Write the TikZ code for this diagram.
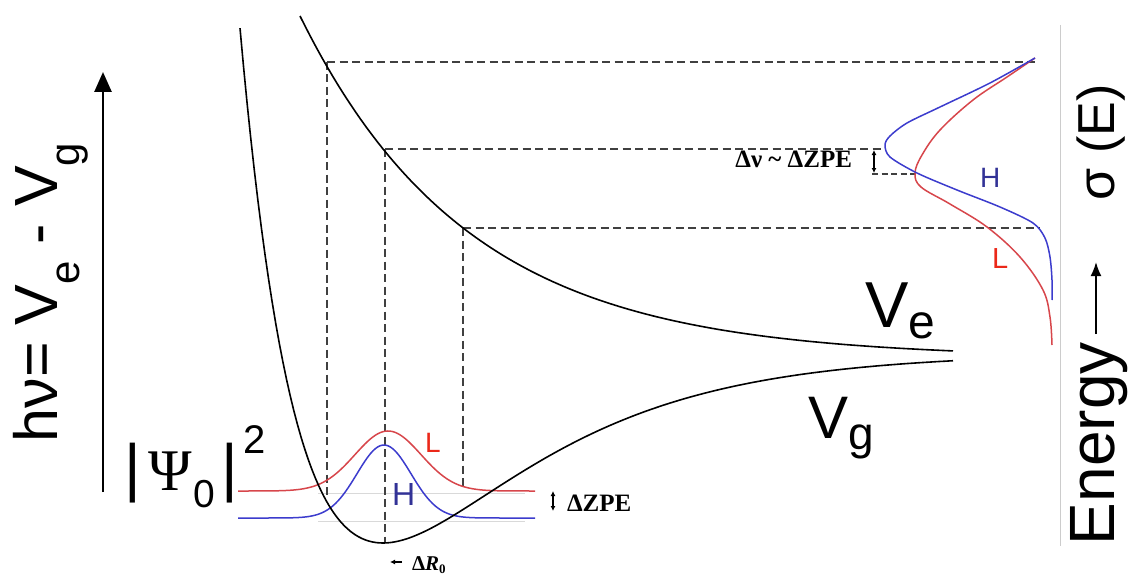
\documentclass[tikz,border=0pt]{standalone}
\usepackage{fontspec}
\setmainfont{Liberation Sans}
\newfontfamily\tms{Liberation Serif}
\usetikzlibrary{arrows.meta}
\newcommand{\lsub}[3]{\raisebox{-#1}{\fontsize{#2}{#2}\selectfont #3}}
\newcommand{\fs}[1]{\fontsize{#1}{#1}\selectfont}
\definecolor{wred}{RGB}{215,70,75}
\definecolor{wblue}{RGB}{60,60,205}
\definecolor{lred}{RGB}{235,40,25}
\definecolor{lblue}{RGB}{50,50,150}
\begin{document}
\begin{tikzpicture}[x=1pt,y=-1pt,
  curve/.style={line width=1.6pt,black},
  guide/.style={line width=1.5pt,black!75,dash pattern=on 8pt off 4.5pt},
  faint/.style={line width=0.9pt,black!15},
  lbl/.style={inner sep=0pt,outer sep=0pt}]
\useasboundingbox (0,0) rectangle (1128,578);

% points on V_e
\coordinate (p1) at (327,62);
\coordinate (p2) at (385,149);
\coordinate (p3) at (463,228);
\coordinate (b1) at (327,497);
\coordinate (b2) at (385,543);
\coordinate (b3) at (463,490);
\coordinate (s1) at (1035,62);
\coordinate (s2) at (885,149);
\coordinate (s3) at (1040,228);
\coordinate (q1) at (872,174);
\coordinate (q2) at (916,174);

% faint levels
\draw[faint] (318,493) -- (525,493);
\draw[faint] (318,521) -- (525,521);

% dashed guides
\draw[guide] (p1) -- (b1);
\draw[guide] (p2) -- (b2);
\draw[guide] (p3) -- (b3);
\draw[guide] (p1) -- (s1);
\draw[guide] (p2) -- (s2);
\draw[guide] (p3) -- (s3);
\draw[guide,line width=1.2pt,dash pattern=on 6pt off 3.5pt] (q1) -- (q2);

% wavefunctions
\draw[wred,line width=1.5pt] plot[domain=238:535,samples=120] (\x,{491-60*exp(-0.5*((\x-388)/33)^2)});
\draw[wblue,line width=1.5pt] plot[domain=238:535,samples=120] (\x,{518-73*exp(-0.5*((\x-384)/27)^2)});

% potentials
\draw[curve] plot[domain=300:953,samples=120] (\x,{358-342*exp(-(\x-300)/168.6)});
\draw[curve] plot[domain=240:953,samples=200] (\x,{543-190*(1-exp(-0.0068*(\x-383)))^2});

% cross sections
\draw[wred,line width=1.5pt] plot[smooth,tension=0.6] coordinates {(1035,58) (1007,77) (973,100) (940,130) (922,155) (915,173) (921,187) (950,204) (987,227) (1020,257) (1043,290) (1050,317) (1052,345)};
\draw[wblue,line width=1.5pt] plot[smooth,tension=0.5] coordinates {(1035,58) (990,83) (940,107) (907,123) (890,136) (885,145) (890,157) (917,173) (957,190) (1000,207) (1033,223) (1045,238) (1050,257) (1052,280) (1052,300)};

% vertical frame line
\draw[line width=0.8pt,black!20] (1060,25) -- (1060,546);

% left energy arrow
\draw[line width=2.6pt,-{Triangle[length=20pt,width=17pt]}] (103,492) -- (103,72);

% texts
\node[lbl,rotate=90,anchor=base west] (hv) at (57,442) {\fs{61}hν= V\lsub{22pt}{42}{e} - V\lsub{22pt}{42}{g}};
\node[lbl,anchor=base west] (ve) at (865,327) {\fs{65}V\lsub{11pt}{48}{e}};
\node[lbl,anchor=base west] (vg) at (808,438) {\fs{60}V\lsub{11pt}{46}{g}};

\node[lbl,anchor=base west] (bar1) at (124,489) {\fs{64}|};
\node[lbl,anchor=base west] (psi) at (148,490) {\tms\fs{59}Ψ};
\node[lbl,anchor=base west] (zero) at (193,507) {\fs{39}0};
\node[lbl,anchor=base west] (bar2) at (221,489) {\fs{64}|};
\node[lbl,anchor=base west] (two) at (243,453) {\fs{40}2};

\node[lbl,anchor=base west,text=lred] (lL) at (425,452) {\fs{28}L};
\node[lbl,anchor=base west,text=lblue] (lH) at (392,505) {\fs{32}H};
\node[lbl,anchor=base west,text=lblue] (rH) at (980,187) {\fs{28}H};
\node[lbl,anchor=base west,text=lred] (rL) at (992,268) {\fs{29}L};

\node[lbl,anchor=base west] (zpe) at (567,511) {\tms\bfseries\fs{25}ΔZPE};
\coordinate (za) at (553,491);
\coordinate (zb) at (553,511);
\draw[line width=1.3pt,{Latex[length=5pt,width=5pt]}-{Latex[length=5pt,width=5pt]}] (za) -- (zb);

\node[lbl,anchor=base west] (dr) at (412,570) {\tms\bfseries\fs{21}Δ\textit{R}\lsub{3pt}{13}{0}};
\coordinate (ra) at (402,562);
\coordinate (rb) at (390,562);
\draw[line width=1.8pt,-{Latex[length=5pt,width=5pt]}] (ra) -- (rb);

\node[lbl,anchor=base east] (dnu) at (852,167) {\tms\bfseries\fs{25}Δν \textasciitilde\ ΔZPE};
\coordinate (na) at (874,150);
\coordinate (nb) at (874,173);
\draw[line width=1.2pt,{Latex[length=5pt,width=5pt]}-{Latex[length=5pt,width=5pt]}] (na) -- (nb);

\node[lbl,rotate=90,anchor=base west] (en) at (1114,545) {\fs{64}Energy};
\coordinate (ea) at (1096,334);
\coordinate (eb) at (1096,262);
\draw[line width=1.8pt,-{Latex[length=14pt,width=11pt]}] (ea) -- (eb);
\node[lbl,rotate=90,anchor=base west] (sig) at (1114,200) {\fs{52}σ (E)};
\end{tikzpicture}
\end{document}
